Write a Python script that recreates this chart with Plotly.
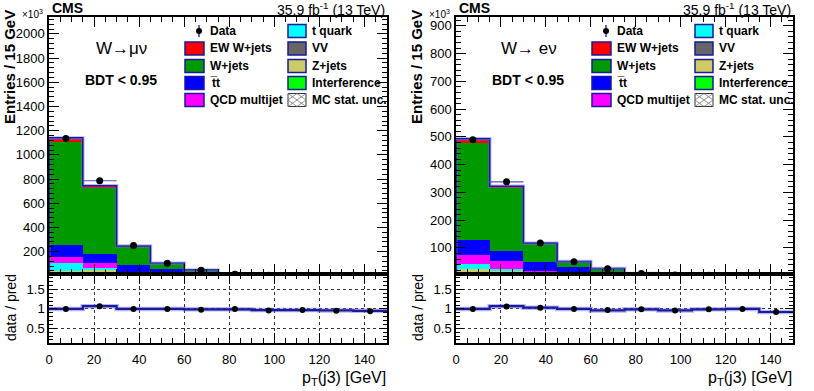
import plotly.graph_objects as go

W, H = 814, 391

# bins of pT(j3) in GeV
bin_edges = [0, 15, 30, 45, 60, 75, 90, 105, 120, 135, 150]
bin_centers = [7.5, 22.5, 37.5, 52.5, 67.5, 82.5, 97.5, 112.5, 127.5, 142.5]

# W -> mu nu, entries x10^3 (stack order bottom -> top)
vv_mu = [10, 25, 15, 6, 3, 1.0, 0.4, 0.15, 0.06, 0.03]
zjets_mu = [33, 25, 5, 2, 1, 0.4, 0.1, 0.05, 0.02, 0.01]
tquark_mu = [66, 18, 5, 3, 1.5, 0.6, 0.2, 0.1, 0.04, 0.02]
qcd_mu = [45, 41, 5, 3, 1.5, 0.5, 0.2, 0.1, 0.04, 0.02]
ttbar_mu = [101, 69, 60, 40, 22, 5, 1.5, 0.6, 0.25, 0.12]
wjets_mu = [850, 555, 153, 48, 19, 4.5, 1.5, 0.6, 0.25, 0.12]
ewk_mu = [35, 12, 4, 2, 1, 0.3, 0.1, 0.05, 0.02, 0.01]
interf_mu = [0.5, 0.3, 0.1, 0.05, 0.02, 0.01, 0.0, 0.0, 0.0, 0.0]
data_mu = [1135, 786, 250, 104, 47, 13, 3.9, 1.6, 0.65, 0.31]
ratio_mu = [1.0, 1.07, 1.0, 1.0, 0.98, 1.0, 0.96, 0.97, 0.95, 0.94]
ratio_line_mu = [1.0, 1.07, 1.0, 1.0, 0.99, 0.99, 0.97, 0.97, 0.96, 0.95]

# W -> e nu, entries x10^3
vv_e = [10, 10, 6, 3, 1.5, 0.5, 0.2, 0.08, 0.03, 0.01]
zjets_e = [14, 8, 2, 1, 0.5, 0.2, 0.06, 0.03, 0.01, 0.005]
tquark_e = [18, 6, 3, 1.5, 0.7, 0.3, 0.1, 0.04, 0.02, 0.01]
qcd_e = [31, 30, 5, 1.5, 0.8, 0.3, 0.1, 0.04, 0.02, 0.01]
ttbar_e = [56, 35, 33, 24, 8, 3, 1.1, 0.45, 0.2, 0.08]
wjets_e = [350, 228, 66, 19, 13.5, 3.4, 1.3, 0.5, 0.22, 0.09]
ewk_e = [14, 5, 2, 1, 0.5, 0.2, 0.06, 0.03, 0.01, 0.005]
interf_e = [0.3, 0.2, 0.05, 0.02, 0.01, 0.0, 0.0, 0.0, 0.0, 0.0]
data_e = [490, 338, 118, 50, 24.5, 7.7, 2.8, 1.15, 0.5, 0.19]
ratio_e = [1.0, 1.06, 1.03, 1.0, 0.97, 0.99, 0.96, 0.99, 1.0, 0.92]
ratio_line_e = [1.0, 1.07, 1.03, 1.0, 0.96, 0.99, 0.96, 0.99, 1.0, 0.92]

legend_col1 = ["Data", "EW W+jets", "W+jets", "t\u0305t", "QCD multijet"]
legend_col2 = ["t quark", "VV", "Z+jets", "Interference", "MC stat. unc."]

colors = {
    "EW W+jets": "#ff0000",
    "W+jets": "#009a00",
    "tt": "#0000ff",
    "QCD multijet": "#ff00ff",
    "t quark": "#00ffff",
    "VV": "#666666",
    "Z+jets": "#cccc66",
    "Interference": "#00ff00",
}

FONT = "Liberation Sans, Arial, Helvetica, sans-serif"
OUTLINE = "#1a1a9a"


def xp(px):
    return px / W


def yp(py):
    return 1 - py / H


panels = [
    dict(name="mu", x0=49, x1=387, ymax=2140, ymin=15, dtick=200, mdtick=40,
         comps=[vv_mu, zjets_mu, tquark_mu, qcd_mu, ttbar_mu, wjets_mu, ewk_mu, interf_mu],
         data=data_mu, ratio=ratio_mu, rline=ratio_line_mu,
         label="W\u2192\u03bc\u03bd"),
    dict(name="e", x0=456, x1=793, ymax=932, ymin=6, dtick=100, mdtick=20,
         comps=[vv_e, zjets_e, tquark_e, qcd_e, ttbar_e, wjets_e, ewk_e, interf_e],
         data=data_e, ratio=ratio_e, rline=ratio_line_e,
         label="W\u2192 e\u03bd"),
]
comp_names = ["VV", "Z+jets", "t quark", "QCD multijet", "tt", "W+jets", "EW W+jets", "Interference"]

main_top, main_bot, ratio_bot = 17, 274, 343

fig = go.Figure()
shapes = []
annotations = []

for i, p in enumerate(panels):
    xa_main = "x" if i == 0 else "x3"
    ya_main = "y" if i == 0 else "y3"
    xa_rat = "x2" if i == 0 else "x4"
    ya_rat = "y2" if i == 0 else "y4"

    for name, vals in zip(comp_names, p["comps"]):
        fig.add_trace(go.Bar(
            x=bin_centers, y=vals, width=15, xaxis=xa_main, yaxis=ya_main,
            marker=dict(color=colors[name], line=dict(width=0)),
            showlegend=False, hoverinfo="skip"
        ))

    totals = [sum(c[k] for c in p["comps"]) for k in range(len(bin_centers))]
    step_x = [0] + bin_edges[:-1] + [150]
    step_y = [0] + totals + [totals[-1]]
    for col, wdt in [("rgba(110,110,230,0.5)", 3.5), (OUTLINE, 1.6)]:
        fig.add_trace(go.Scatter(
            x=step_x, y=step_y, mode="lines", line=dict(color=col, width=wdt, shape="hv"),
            xaxis=xa_main, yaxis=ya_main, showlegend=False, hoverinfo="skip"
        ))

    fig.add_trace(go.Scatter(
        x=bin_centers, y=p["data"], mode="markers", xaxis=xa_main, yaxis=ya_main,
        marker=dict(color="black", size=7),
        error_x=dict(type="constant", value=7.5, color="#5050c0", thickness=1.2, width=0),
        showlegend=False
    ))

    # ratio panel
    rx = bin_edges[:-1] + [150]
    ry = p["rline"] + [p["rline"][-1]]
    for col, wdt in [("rgba(110,110,230,0.5)", 4.5), (OUTLINE, 2.2)]:
        fig.add_trace(go.Scatter(
            x=rx, y=ry, mode="lines", line=dict(color=col, width=wdt, shape="hv"),
            xaxis=xa_rat, yaxis=ya_rat, showlegend=False, hoverinfo="skip"
        ))
    fig.add_trace(go.Scatter(
        x=bin_centers, y=p["ratio"], mode="markers", xaxis=xa_rat, yaxis=ya_rat,
        marker=dict(color="black", size=6), showlegend=False
    ))

    dom_x = [xp(p["x0"]), xp(p["x1"])]
    common = dict(
        showline=True, linecolor="black", linewidth=1.5, mirror="ticks",
        ticks="inside", tickcolor="black", tickwidth=1.2,
        tickfont=dict(family=FONT, size=13, color="black"),
        zeroline=False, domain=dom_x, automargin=False
    )
    key = "" if i == 0 else "3"
    key_r = "2" if i == 0 else "4"
    fig.update_layout(**{
        f"xaxis{key}": dict(common, range=[0, 150], dtick=20, ticklen=10, showticklabels=False,
                            anchor=ya_main, minor=dict(ticks="inside", dtick=5, ticklen=5, tickcolor="black"),
                            showgrid=False),
        f"yaxis{key}": dict(common, domain=[yp(main_bot), yp(main_top)], range=[p["ymin"], p["ymax"]],
                            tick0=0, dtick=p["dtick"], ticklen=10, anchor=xa_main, showgrid=False,
                            minor=dict(ticks="inside", dtick=p["mdtick"], ticklen=5, tickcolor="black")),
        f"xaxis{key_r}": dict(common, range=[0, 150], dtick=20, ticklen=10, anchor=ya_rat,
                              showgrid=True, gridcolor="#333333", griddash="dot", gridwidth=1,
                              minor=dict(ticks="inside", dtick=5, ticklen=5, tickcolor="black"),
                              ticklabelstandoff=4),
        f"yaxis{key_r}": dict(common, domain=[yp(ratio_bot), yp(main_bot)], range=[0.12, 1.9],
                              tick0=0, dtick=0.5, ticklen=8, anchor=xa_rat,
                              showgrid=True, gridcolor="#333333", griddash="dot", gridwidth=1,
                              minor=dict(ticks="inside", dtick=0.1, ticklen=4, tickcolor="black")),
    })

    L = p["x0"]
    # header texts
    annotations += [
        dict(x=xp(L + 1), y=yp(8), text="<b>CMS</b>", xanchor="left", yanchor="middle",
             font=dict(size=14)),
        dict(x=xp(p["x1"]), y=yp(9), text="35.9 fb<sup>-1</sup> (13 TeV)", xanchor="right",
             yanchor="middle", font=dict(size=14)),
        dict(x=xp(L - 29), y=yp(14), text="\u00d710<sup>3</sup>", xanchor="left", yanchor="middle",
             font=dict(size=10)),
        dict(x=xp(L - 39), y=yp(67), text="<b>Entries / 15 GeV</b>", textangle=-90,
             xanchor="center", yanchor="middle", font=dict(size=15)),
        dict(x=xp(L - 38), y=yp(308), text="data / pred", textangle=-90,
             xanchor="center", yanchor="middle", font=dict(size=14)),
        dict(x=xp(p["x1"] + 1), y=yp(378), text="p<sub>T</sub>(j3) [GeV]", xanchor="right",
             yanchor="middle", font=dict(size=16)),
        dict(x=xp(L + 73), y=yp(48), text=p["label"], xanchor="center", yanchor="middle",
             font=dict(size=17)),
        dict(x=xp(L + 72), y=yp(80), text="<b>BDT < 0.95</b>", xanchor="center", yanchor="middle",
             font=dict(size=14)),
    ]

    # legend
    rows = [31, 48.5, 66, 83, 100]
    c1b, c1t = L + 136, L + 159
    c2b, c2t = L + 239, L + 261
    col1_keys = [None, "EW W+jets", "W+jets", "tt", "QCD multijet"]
    col2_keys = ["t quark", "VV", "Z+jets", "Interference", None]
    for r, (txt, k) in enumerate(zip(legend_col1, col1_keys)):
        yy = rows[r]
        if k is None:
            shapes.append(dict(type="line", xref="paper", yref="paper", x0=xp(L + 150), x1=xp(L + 150),
                               y0=yp(yy - 6), y1=yp(yy + 6), line=dict(color="#3030c0", width=1.5)))
            shapes.append(dict(type="circle", xref="paper", yref="paper", x0=xp(L + 147), x1=xp(L + 153),
                               y0=yp(yy + 3), y1=yp(yy - 3), fillcolor="black", line=dict(width=0)))
        else:
            shapes.append(dict(type="rect", xref="paper", yref="paper", x0=xp(c1b), x1=xp(c1b + 19),
                               y0=yp(yy + 6.5), y1=yp(yy - 6.5), fillcolor=colors[k],
                               line=dict(color=OUTLINE, width=1.5)))
        annotations.append(dict(x=xp(c1t), y=yp(yy), text=f"<b>{txt}</b>", xanchor="left",
                                yanchor="middle", font=dict(size=12)))
    for r, (txt, k) in enumerate(zip(legend_col2, col2_keys)):
        yy = rows[r]
        bx0, bx1, by0, by1 = c2b, c2b + 18, yy - 6.5, yy + 6.5
        if k is None:
            shapes.append(dict(type="rect", xref="paper", yref="paper", x0=xp(bx0), x1=xp(bx1),
                               y0=yp(by1), y1=yp(by0), fillcolor="white",
                               line=dict(color="#333333", width=1)))
            mx, my = (bx0 + bx1) / 2, (by0 + by1) / 2
            path = (f"M{xp(bx0)},{yp(by0)} L{xp(bx1)},{yp(by1)} M{xp(bx0)},{yp(by1)} L{xp(bx1)},{yp(by0)} "
                    f"M{xp(bx0)},{yp(my)} L{xp(mx)},{yp(by0)} L{xp(bx1)},{yp(my)} L{xp(mx)},{yp(by1)} Z")
            shapes.append(dict(type="path", xref="paper", yref="paper", path=path,
                               line=dict(color="#777777", width=0.8)))
        else:
            shapes.append(dict(type="rect", xref="paper", yref="paper", x0=xp(bx0), x1=xp(bx1),
                               y0=yp(by1), y1=yp(by0), fillcolor=colors[k],
                               line=dict(color=OUTLINE, width=1.5)))
        annotations.append(dict(x=xp(c2t), y=yp(yy), text=f"<b>{txt}</b>", xanchor="left",
                                yanchor="middle", font=dict(size=12)))

for a in annotations:
    a.update(xref="paper", yref="paper", showarrow=False)
    a["font"] = dict(family=FONT, color="black", **a["font"])

fig.update_layout(
    width=W, height=H, margin=dict(l=0, r=0, t=0, b=0, autoexpand=False),
    paper_bgcolor="white", plot_bgcolor="white",
    barmode="stack", bargap=0, showlegend=False,
    font=dict(family=FONT, color="black"),
    shapes=shapes, annotations=annotations,
)

# drop the default 8px page margin so the figure sits at the window origin
fig.write_html("out.html", config={"displayModeBar": False},
               post_script="document.body.style.margin='0';document.body.style.overflow='hidden';")
